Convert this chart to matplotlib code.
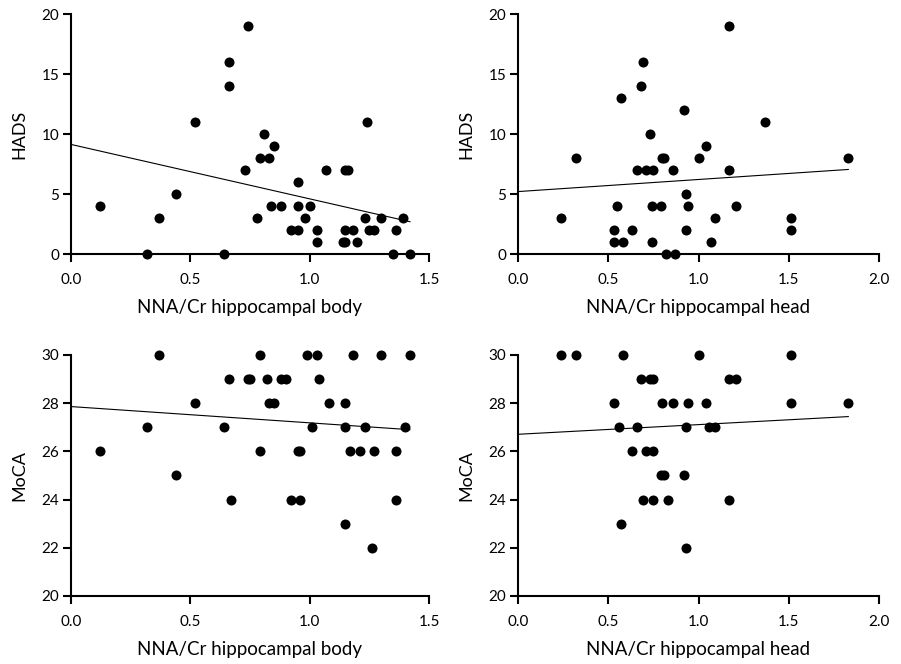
import matplotlib
matplotlib.use("Agg")
import matplotlib.pyplot as plt
import numpy as np

# NNA/Cr hippocampal body vs HADS
body_hads_x = [0.12, 0.32, 0.37, 0.44, 0.52, 0.64, 0.66, 0.66, 0.74, 0.73, 0.78, 0.79,
               0.81, 0.83, 0.85, 0.84, 0.88, 0.92, 0.95, 0.95, 0.95, 0.98, 1.00, 1.03,
               1.03, 1.07, 1.14, 1.15, 1.15, 1.15, 1.16, 1.18, 1.20, 1.23, 1.24, 1.25,
               1.27, 1.30, 1.35, 1.36, 1.39, 1.42]
body_hads_y = [4, 0, 3, 5, 11, 0, 14, 16, 19, 7, 3, 8,
               10, 8, 9, 4, 4, 2, 6, 4, 2, 3, 4, 1,
               2, 7, 1, 1, 2, 7, 7, 2, 1, 3, 11, 2,
               2, 3, 0, 2, 3, 0]

# NNA/Cr hippocampal head vs HADS
head_hads_x = [0.24, 0.32, 0.53, 0.53, 0.55, 0.57, 0.58, 0.63, 0.66, 0.68, 0.69, 0.71,
               0.73, 0.74, 0.74, 0.75, 0.79, 0.80, 0.81, 0.82, 0.86, 0.87, 0.92, 0.93,
               0.94, 0.93, 1.00, 1.04, 1.07, 1.09, 1.17, 1.17, 1.21, 1.37, 1.51, 1.51,
               1.83]
head_hads_y = [3, 8, 2, 1, 4, 13, 1, 2, 7, 14, 16, 7,
               10, 4, 1, 7, 4, 8, 8, 0, 7, 0, 12, 5,
               4, 2, 8, 9, 1, 3, 7, 19, 4, 11, 3, 2,
               8]

# NNA/Cr hippocampal body vs MoCA
body_moca_x = [0.12, 0.32, 0.37, 0.44, 0.52, 0.64, 0.66, 0.67, 0.74, 0.75, 0.79, 0.79,
               0.82, 0.83, 0.85, 0.88, 0.90, 0.92, 0.95, 0.96, 0.96, 0.99, 1.01, 1.03,
               1.04, 1.08, 1.15, 1.15, 1.15, 1.17, 1.18, 1.21, 1.23, 1.26, 1.27, 1.30,
               1.36, 1.36, 1.40, 1.42]
body_moca_y = [26, 27, 30, 25, 28, 27, 29, 24, 29, 29, 26, 30,
               29, 28, 28, 29, 29, 24, 26, 26, 24, 30, 27, 30,
               29, 28, 23, 28, 27, 26, 30, 26, 27, 22, 26, 30,
               24, 26, 27, 30]

# NNA/Cr hippocampal head vs MoCA
head_moca_x = [0.24, 0.32, 0.53, 0.56, 0.57, 0.58, 0.63, 0.66, 0.68, 0.69, 0.71, 0.73,
               0.75, 0.75, 0.75, 0.79, 0.80, 0.81, 0.83, 0.86, 0.92, 0.93, 0.93, 0.94,
               1.00, 1.04, 1.06, 1.09, 1.17, 1.17, 1.21, 1.51, 1.51, 1.83]
head_moca_y = [30, 30, 28, 27, 23, 30, 26, 27, 29, 24, 26, 29,
               29, 26, 24, 25, 28, 25, 24, 28, 25, 27, 22, 28,
               30, 28, 27, 27, 29, 24, 29, 30, 28, 28]

body_label = "NNA/Cr hippocampal body"
head_label = "NNA/Cr hippocampal head"

plt.rcParams['font.family'] = ['Lato', 'DejaVu Sans']

fig = plt.figure(figsize=(9.01, 6.64), dpi=100)
W, H = 901.0, 664.0

def make_ax(l, r, t, b):
  return fig.add_axes([l / W, 1 - b / H, (r - l) / W, (b - t) / H])

panels = [
  (make_ax(71, 429, 14, 254), body_hads_x, body_hads_y, (0, 1.5), [0, 0.5, 1.0, 1.5], (0, 20), [0, 5, 10, 15, 20], body_label, "HADS"),
  (make_ax(518, 879, 14, 254), head_hads_x, head_hads_y, (0, 2.0), [0, 0.5, 1.0, 1.5, 2.0], (0, 20), [0, 5, 10, 15, 20], head_label, "HADS"),
  (make_ax(71, 429, 355, 596), body_moca_x, body_moca_y, (0, 1.5), [0, 0.5, 1.0, 1.5], (20, 30), [20, 22, 24, 26, 28, 30], body_label, "MoCA"),
  (make_ax(518, 879, 355, 596), head_moca_x, head_moca_y, (0, 2.0), [0, 0.5, 1.0, 1.5, 2.0], (20, 30), [20, 22, 24, 26, 28, 30], head_label, "MoCA"),
]

for ax, xs, ys, xlim, xticks, ylim, yticks, xlabel, ylabel in panels:
  xs = np.array(xs)
  ys = np.array(ys)
  ax.scatter(xs, ys, s=52, color='black', zorder=3, clip_on=False, linewidths=0)
  slope, intercept = np.polyfit(xs, ys, 1)
  fx = np.linspace(0, xs.max(), 50)
  ax.plot(fx, intercept + slope * fx, color='black', linewidth=0.8, zorder=2)
  ax.set_xlim(*xlim)
  ax.set_ylim(*ylim)
  ax.set_xticks(xticks)
  ax.set_xticklabels(["%.1f" % t for t in xticks])
  ax.set_yticks(yticks)
  for side in ('top', 'right'):
    ax.spines[side].set_visible(False)
  for side in ('left', 'bottom'):
    ax.spines[side].set_linewidth(1.5)
  ax.tick_params(axis='both', width=1.5, length=5.5, labelsize=11, color='black')
  ax.tick_params(axis='x', pad=8)
  ax.tick_params(axis='y', pad=3)
  ax.set_xlabel(xlabel, fontsize=13.5, labelpad=9)
  ax.set_ylabel(ylabel, fontsize=13, labelpad=10)

fig.savefig("out.png", dpi=100)
